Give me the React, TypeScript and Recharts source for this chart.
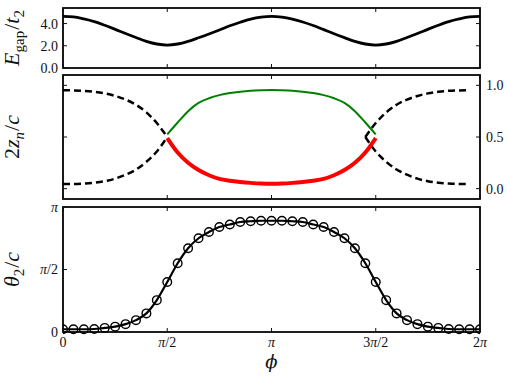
import React from 'react';
import { LineChart, Line, XAxis, YAxis, ReferenceArea } from 'recharts';

// phase phi, in units of pi
const phi = [
  0, 0.05, 0.1, 0.15, 0.2, 0.25, 0.3, 0.35, 0.4, 0.45, 0.5, 0.55, 0.6, 0.65, 0.7, 0.75, 0.8, 0.85, 0.9, 0.95,
  1, 1.05, 1.1, 1.15, 1.2, 1.25, 1.3, 1.35, 1.4, 1.45, 1.5, 1.55, 1.6, 1.65, 1.7, 1.75, 1.8, 1.85, 1.9, 1.95, 2,
];
const phiTicks = [0, 0.5, 1, 1.5, 2];
const phiTickLabels = ['0', 'π/2', 'π', '3π/2', '2π'];

// panel 1: E_gap / t_2
const egap = [
  4.65, 4.6, 4.42, 4.18, 3.85, 3.48, 3.1, 2.74, 2.4, 2.16, 2.06, 2.16, 2.4, 2.72, 3.06, 3.42, 3.8, 4.12, 4.4, 4.58,
  4.65, 4.58, 4.4, 4.14, 3.82, 3.45, 3.08, 2.73, 2.4, 2.16, 2.06, 2.16, 2.4, 2.74, 3.1, 3.48, 3.85, 4.18, 4.42, 4.6, 4.65,
];
const egapTicks = [0, 2, 4];
const egapTickLabels = ['0.0', '2.0', '4.0'];

// panel 2: 2 z_n / c
const N = null;
const zUpperDashed = [
  0.952, 0.951, 0.947, 0.938, 0.922, 0.897, 0.862, 0.812, 0.738, 0.635, 0.5,
  N, N, N, N, N, N, N, N, N, N, N, N, N, N, N, N, N, N,
  0.5, 0.635, 0.738, 0.812, 0.862, 0.897, 0.922, 0.938, 0.947, 0.951, 0.952,
];
const zLowerDashed = [
  0.045, 0.046, 0.05, 0.058, 0.072, 0.097, 0.135, 0.185, 0.26, 0.36, 0.5,
  N, N, N, N, N, N, N, N, N, N, N, N, N, N, N, N, N, N,
  0.5, 0.36, 0.26, 0.185, 0.135, 0.097, 0.072, 0.058, 0.05, 0.046, 0.045,
];
const zGreen = [
  N, N, N, N, N, N, N, N, N, N,
  0.525, 0.64, 0.75, 0.83, 0.875, 0.905, 0.925, 0.938, 0.947, 0.952, 0.955,
  0.952, 0.947, 0.938, 0.925, 0.905, 0.875, 0.83, 0.75, 0.64, 0.525,
  N, N, N, N, N, N, N, N, N, N,
];
const zRed = [
  N, N, N, N, N, N, N, N, N, N,
  0.49, 0.35, 0.25, 0.18, 0.13, 0.095, 0.077, 0.065, 0.056, 0.05, 0.048,
  0.05, 0.056, 0.065, 0.077, 0.095, 0.13, 0.18, 0.25, 0.35, 0.49,
  N, N, N, N, N, N, N, N, N, N,
];
const zTicks = [0, 0.5, 1];
const zTickLabels = ['0.0', '0.5', '1.0'];

// panel 3: theta_2 / c, in units of pi
const theta = [
  0.022, 0.022, 0.022, 0.024, 0.033, 0.043, 0.063, 0.095, 0.149, 0.255, 0.4, 0.55, 0.67, 0.75, 0.8, 0.84, 0.86, 0.88, 0.886, 0.89,
  0.89, 0.89, 0.886, 0.88, 0.86, 0.84, 0.8, 0.75, 0.67, 0.55, 0.4, 0.255, 0.149, 0.095, 0.063, 0.043, 0.033, 0.024, 0.022, 0.022, 0.022,
];
const thetaTicks = [0, 0.5, 1];
const thetaTickLabels = ['0', 'π/2', 'π'];

const data = phi.map((p, i) => ({
  phi: p,
  egap: egap[i],
  up: zUpperDashed[i],
  lo: zLowerDashed[i],
  green: zGreen[i],
  red: zRed[i],
  theta: theta[i],
}));

const FONT = '"Liberation Serif", "DejaVu Serif", serif';
const INK = '#111111';
const TL = { stroke: INK, strokeWidth: 1 };

function MathText({ s }: { s: string }) {
  return (
    <>
      {s
        .split(/(π)/)
        .filter((p) => p.length > 0)
        .map((p, i) =>
          p === 'π' ? (
            <tspan key={i} fontStyle="italic">π</tspan>
          ) : (
            <tspan key={i}>{p}</tspan>
          )
        )}
    </>
  );
}

const makeTick = (ticks: number[], labels: string[], dy: string, anchor: string) => (props: any) => {
  const { x, y, payload } = props;
  const idx = ticks.indexOf(payload.value);
  const s = idx >= 0 ? labels[idx] : String(payload.value);
  return (
    <text x={x} y={y} dy={dy} textAnchor={anchor} fontFamily={FONT} fontSize={14} fill={INK}>
      <MathText s={s} />
    </text>
  );
};
const noTick = () => <g />;

const makeYTitle = (content: React.ReactNode) => (props: any) => {
  const vb = props.viewBox || { x: 0, y: 0, width: 0, height: 0 };
  const cx = vb.x + 19;
  const cy = vb.y + vb.height / 2;
  return (
    <text
      x={cx}
      y={cy}
      transform={`rotate(-90 ${cx} ${cy})`}
      textAnchor="middle"
      fontFamily={FONT}
      fontSize={22}
      fill={INK}
    >
      {content}
    </text>
  );
};

const xTitle = (props: any) => {
  const vb = props.viewBox || { x: 0, y: 0, width: 0, height: 0 };
  return (
    <text
      x={vb.x + vb.width / 2}
      y={vb.y + 36}
      textAnchor="middle"
      fontFamily='"DejaVu Serif", serif'
      fontStyle="italic"
      fontSize={18}
      fill={INK}
    >
      ϕ
    </text>
  );
};

const egapTitle = makeYTitle(
  <>
    <tspan fontStyle="italic">E</tspan>
    <tspan fontSize={15} dy={5}>gap</tspan>
    <tspan dy={-5} dx={1}>/</tspan>
    <tspan fontStyle="italic">t</tspan>
    <tspan fontSize={15} dy={5}>2</tspan>
  </>
);
const zTitle = makeYTitle(
  <>
    <tspan>2</tspan>
    <tspan fontStyle="italic">z</tspan>
    <tspan fontSize={15} fontStyle="italic" dy={5}>n</tspan>
    <tspan dy={-5} dx={1}>/</tspan>
    <tspan fontStyle="italic">c</tspan>
  </>
);
const thetaTitle = makeYTitle(
  <>
    <tspan fontStyle="italic">θ</tspan>
    <tspan fontSize={15} dy={5}>2</tspan>
    <tspan dy={-5} dx={1}>/</tspan>
    <tspan fontStyle="italic">c</tspan>
  </>
);

function frameAxes(
  yDomain: [number, number],
  yTicks: number[],
  leftTick: any,
  rightTick: any,
  bottomHeight: number,
  bottomTick: any,
  yTitle: any,
  showXTitle: boolean
) {
  return [
    <XAxis
      key="xb"
      xAxisId="b"
      dataKey="phi"
      type="number"
      domain={[0, 2]}
      ticks={phiTicks}
      allowDataOverflow
      height={bottomHeight}
      axisLine={false}
      tickLine={TL}
      tickSize={-4}
      tickMargin={9}
      tick={bottomTick}
      interval={0}
      label={showXTitle ? xTitle : undefined}
    />,
    <XAxis
      key="xt"
      xAxisId="t"
      dataKey="phi"
      type="number"
      orientation="top"
      domain={[0, 2]}
      ticks={phiTicks}
      allowDataOverflow
      height={1}
      axisLine={false}
      tickLine={TL}
      tickSize={-4}
      tick={noTick}
      interval={0}
    />,
    <YAxis
      key="yl"
      yAxisId="l"
      type="number"
      domain={yDomain}
      ticks={yTicks}
      width={63}
      axisLine={false}
      tickLine={TL}
      tickSize={-4}
      tickMargin={9}
      tick={leftTick}
      interval={0}
      label={yTitle}
    />,
    <YAxis
      key="yr"
      yAxisId="r"
      orientation="right"
      type="number"
      domain={yDomain}
      ticks={yTicks}
      width={27}
      axisLine={false}
      tickLine={TL}
      tickSize={-4}
      tickMargin={10}
      tick={rightTick}
      interval={0}
    />,
    <ReferenceArea
      key="frame"
      xAxisId="b"
      yAxisId="l"
      x1={0}
      x2={2}
      y1={yDomain[0]}
      y2={yDomain[1]}
      fill="none"
      fillOpacity={0}
      stroke={INK}
      strokeWidth={1.6}
      ifOverflow="visible"
    />,
    <ReferenceArea
      key="frame2"
      xAxisId="t"
      yAxisId="r"
      x1={0}
      x2={2}
      y1={yDomain[0]}
      y2={yDomain[1]}
      fill="none"
      fillOpacity={0}
      stroke={INK}
      strokeWidth={1.6}
      ifOverflow="extendDomain"
    />,
  ];
}

export default function App() {
  return (
    <div style={{ position: 'absolute', left: 0, top: 0, width: 507, height: 378, background: '#fff' }}>
      <div style={{ position: 'absolute', left: 0, top: 0 }}>
        <LineChart width={507} height={80} data={data} margin={{ top: 7, right: 0, bottom: 0, left: 0 }}>
          {frameAxes([0, 5.4], egapTicks, makeTick(egapTicks, egapTickLabels, '0.355em', 'end'), noTick, 12, noTick, egapTitle, false)}
          <Line
            xAxisId="b"
            yAxisId="l"
            dataKey="egap"
            type="monotone"
            stroke="#000"
            strokeWidth={2.8}
            dot={false}
            isAnimationActive={false}
          />
        </LineChart>
      </div>
      <div style={{ position: 'absolute', left: 0, top: 70 }}>
        <LineChart width={507} height={135} data={data} margin={{ top: 4, right: 0, bottom: 0, left: 0 }}>
          {frameAxes([-0.1, 1.1], zTicks, noTick, makeTick(zTicks, zTickLabels, '0.355em', 'start'), 6, noTick, zTitle, false)}
          <Line
            xAxisId="b"
            yAxisId="l"
            dataKey="up"
            type="monotone"
            stroke="#000"
            strokeWidth={2.5}
            strokeDasharray="7 4"
            dot={false}
            isAnimationActive={false}
          />
          <Line
            xAxisId="b"
            yAxisId="l"
            dataKey="lo"
            type="monotone"
            stroke="#000"
            strokeWidth={2.5}
            strokeDasharray="7 4"
            dot={false}
            isAnimationActive={false}
          />
          <Line
            xAxisId="t"
            yAxisId="r"
            dataKey="green"
            type="monotone"
            stroke="#008000"
            strokeWidth={2}
            dot={false}
            isAnimationActive={false}
          />
          <Line
            xAxisId="t"
            yAxisId="r"
            dataKey="red"
            type="monotone"
            stroke="#ff0000"
            strokeWidth={4}
            dot={false}
            isAnimationActive={false}
          />
        </LineChart>
      </div>
      <div style={{ position: 'absolute', left: 0, top: 200 }}>
        <LineChart width={507} height={178} data={data} margin={{ top: 6, right: 0, bottom: 0, left: 0 }}>
          {frameAxes(
            [0, 1],
            thetaTicks,
            makeTick(thetaTicks, thetaTickLabels, '0.355em', 'end'),
            noTick,
            46,
            makeTick(phiTicks, phiTickLabels, '0.71em', 'middle'),
            thetaTitle,
            true
          )}
          <Line
            xAxisId="b"
            yAxisId="l"
            dataKey="theta"
            type="monotone"
            stroke="#000"
            strokeWidth={2.2}
            dot={false}
            isAnimationActive={false}
          />
          <Line
            xAxisId="t"
            yAxisId="r"
            dataKey="theta"
            type="monotone"
            stroke="none"
            dot={{ r: 4.3, fill: 'none', stroke: '#000', strokeWidth: 1.4 }}
            isAnimationActive={false}
          />
        </LineChart>
      </div>
    </div>
  );
}
